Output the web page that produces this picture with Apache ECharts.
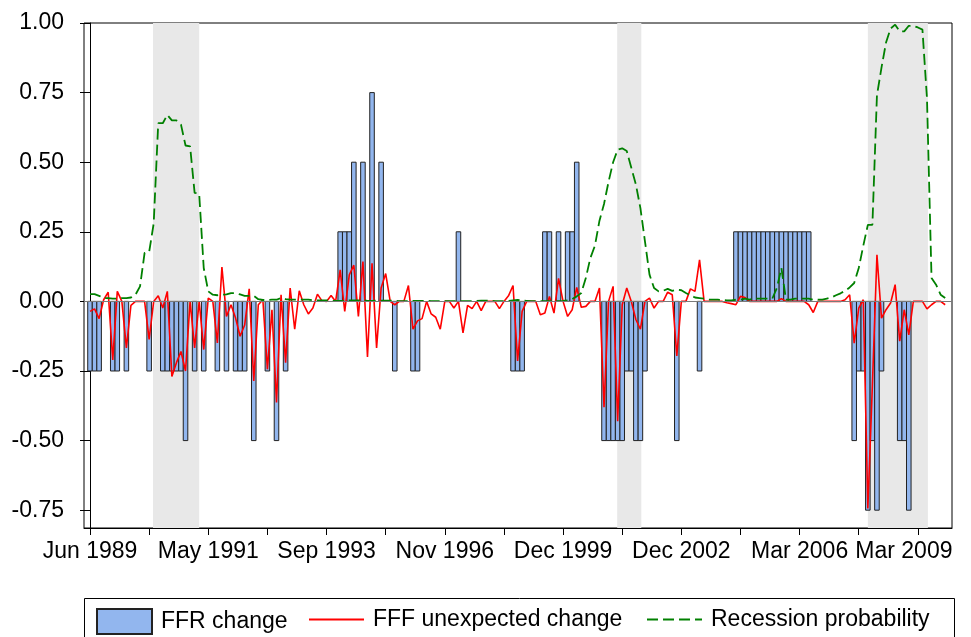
<!DOCTYPE html>
<html>
<head>
<meta charset="utf-8">
<script src="https://cdn.jsdelivr.net/npm/echarts@6/dist/echarts.min.js"></script>
<style>
  html, body { margin: 0; padding: 0; background: #fff; }
  #chart { width: 971px; height: 637px; }
</style>
</head>
<body>
<div id="chart"></div>
<script>
// observations are FOMC meetings, one label every 26 meetings, one tick every 13
var xLabels = ['Jun 1989', 'May 1991', 'Sep 1993', 'Nov 1996', 'Dec 1999', 'Dec 2002', 'Mar 2006', 'Mar 2009'];
var labelStep = 26;
var tickStep = 13;
var yTicks = [-0.75, -0.5, -0.25, 0, 0.25, 0.5, 0.75, 1];

var ffrChange = [
  -0.25, -0.25, -0.25, 0, 0, -0.25, -0.25, 0, -0.25, 0, 0, 0, 0,
  -0.25, 0, 0, -0.25, -0.25, -0.25, -0.25, -0.25, -0.5, 0, -0.25, 0, -0.25,
  0, 0, -0.25, 0, -0.25, 0, -0.25, -0.25, -0.25, 0, -0.5, 0, 0,
  -0.25, 0, -0.5, 0, -0.25, 0, 0, 0, 0, 0, 0, 0, 0,
  0, 0, 0, 0.25, 0.25, 0.25, 0.5, 0, 0.5, 0, 0.75, 0, 0.5,
  0, 0, -0.25, 0, 0, 0, -0.25, -0.25, 0, 0, 0, 0, 0,
  0, 0, 0, 0.25, 0, 0, 0, 0, 0, 0, 0, 0, 0,
  0, 0, -0.25, -0.25, -0.25, 0, 0, 0, 0, 0.25, 0.25, 0, 0.25,
  0, 0.25, 0.25, 0.5, 0, 0, 0, 0, 0, -0.5, -0.5, -0.5, -0.5,
  -0.5, -0.25, -0.25, -0.5, -0.5, -0.25, 0, 0, 0, 0, 0, 0, -0.5,
  0, 0, 0, 0, -0.25, 0, 0, 0, 0, 0, 0, 0, 0.25,
  0.25, 0.25, 0.25, 0.25, 0.25, 0.25, 0.25, 0.25, 0.25, 0.25, 0.25, 0.25, 0.25,
  0.25, 0.25, 0.25, 0, 0, 0, 0, 0, 0, 0, 0, 0, -0.5,
  -0.25, -0.25, -0.75, -0.5, -0.75, -0.25, 0, 0, 0, -0.5, -0.5, -0.75, 0,
  0, 0, 0, 0, 0, 0, 0
];

var fffSurprise = [
  -0.036, -0.027, -0.062, 0.006, 0.033, -0.21, 0.036, 0, -0.167, -0.014, 0, 0, 0,
  -0.137, 0, 0.02, -0.024, 0.036, -0.27, -0.22, -0.18, -0.25, 0, -0.167, 0, -0.173,
  0.012, 0, -0.149, 0.123, -0.054, -0.012, -0.06, -0.125, -0.085, 0.045, -0.286, -0.012, 0.006,
  -0.244, -0.03, -0.363, 0.024, -0.22, 0.048, -0.1, 0.038, -0.012, -0.045, -0.024, 0.026, 0.002,
  0, 0.021, 0, 0.113, -0.036, 0.095, 0.13, -0.054, 0.143, -0.2, 0.137, -0.167, 0.048,
  0.1, 0, -0.012, 0, 0, 0.057, -0.1, -0.07, -0.062, 0, -0.045, -0.057, -0.1,
  0, 0, -0.024, 0, -0.113, -0.014, -0.026, 0, -0.033, 0, 0, 0, -0.026,
  0, 0.02, 0.057, -0.214, -0.036, 0, 0, 0, -0.048, -0.042, 0.018, -0.042, 0.083,
  0, -0.054, -0.03, 0.05, -0.021, -0.018, 0, 0, 0.048, -0.38, 0, 0.054, -0.43,
  -0.012, 0.048, 0, -0.065, -0.1, 0, 0.012, -0.024, 0, 0, 0.033, 0.024, -0.196,
  0, 0, 0.045, 0.036, 0.149, 0, 0, 0, 0, 0, -0.005, -0.008, -0.012,
  0.018, 0.014, 0, 0, 0, 0, 0, 0, 0, 0.01, 0, 0, 0,
  0, 0, -0.012, -0.04, 0, 0, 0, 0, 0, 0, 0.006, 0.024, -0.15,
  -0.024, 0.006, -0.744, -0.3, 0.167, -0.06, -0.03, -0.006, 0.06, -0.143, -0.03, -0.12, 0,
  0, 0, -0.027, -0.012, 0, 0, -0.012
];

var recessionProb = [
  0.026, 0.026, 0.02, 0.012, 0.012, 0.01, 0.01, 0.012, 0.012, 0.014, 0.024, 0.054, 0.174,
  0.177, 0.28, 0.64, 0.64, 0.67, 0.65, 0.65, 0.635, 0.56, 0.557, 0.39, 0.387, 0.12,
  0.036, 0.024, 0.022, 0.024, 0.025, 0.03, 0.03, 0.025, 0.02, 0.02, 0.02, 0.008, 0.005,
  0.005, 0.006, 0.006, 0.012, 0.008, 0.006, 0.006, 0.006, 0.006, 0.006, 0.004, 0.004, 0.004,
  0.004, 0.002, 0.002, 0.002, 0.002, 0.004, 0.004, 0.004, 0.004, 0.002, 0.002, 0.003, 0.003,
  0.003, 0.003, 0.002, 0.001, 0.001, 0.001, 0.002, 0.002, 0.002, 0.002, 0.001, 0.001, 0.001,
  0.001, 0.001, 0.001, 0.001, 0.001, 0.001, 0.001, 0.002, 0.003, 0.003, 0.002, 0.001, 0.001,
  0.001, 0.002, 0.004, 0.005, 0.003, 0.002, 0.001, 0.001, 0.001, 0.001, 0.001, 0.001, 0.001,
  0.002, 0.004, 0.008, 0.018, 0.03, 0.084, 0.156, 0.2, 0.29, 0.35, 0.43, 0.5, 0.545,
  0.55, 0.54, 0.48, 0.42, 0.335, 0.216, 0.096, 0.048, 0.036, 0.038, 0.045, 0.038, 0.042,
  0.04, 0.03, 0.022, 0.014, 0.012, 0.01, 0.006, 0.006, 0.006, 0.005, 0.004, 0.004, 0.006,
  0.006, 0.01, 0.006, 0.01, 0.01, 0.01, 0.01, 0.01, 0.048, 0.12, 0.006, 0.006, 0.01,
  0.01, 0.01, 0.01, 0.006, 0.006, 0.006, 0.01, 0.014, 0.022, 0.029, 0.038, 0.05, 0.066,
  0.12, 0.2, 0.275, 0.275, 0.74, 0.84, 0.93, 0.98, 0.994, 0.97, 0.97, 0.99, 0.99,
  0.984, 0.976, 0.73, 0.084, 0.06, 0.024, 0.012
];

// shaded recessions, in observation units
var recessions = [[13.85, 24.0], [115.9, 121.2], [171.0, 184.2]];

var font = 'Liberation Sans, Arial, sans-serif';
var fontSize = 23;
var barFill = '#92b6ee';
var barEdge = '#222';

function pairs(arr, skipZero) {
  return arr.map(function (v, i) {
    return [i, (skipZero && v === 0) ? '-' : v];
  });
}

function steps(step, last) {
  var out = [];
  for (var v = 0; v <= last; v += step) out.push(v);
  return out;
}

var lastLabelValue = labelStep * (xLabels.length - 1);
var labelValues = steps(labelStep, lastLabelValue);
var tickValues = steps(tickStep, lastLabelValue);

function legendBox(name, left, icon, hideSymbol) {
  var l = {
    data: [{ name: name, icon: icon }],
    left: left,
    top: 608,
    padding: 0,
    itemWidth: 55,
    itemHeight: 25,
    selectedMode: false,
    textStyle: { fontSize: fontSize, color: '#000', fontFamily: font, padding: [0, 0, 0, 4] }
  };
  if (hideSymbol) l.itemStyle = { opacity: 0 };
  return l;
}

// each bar is one observation wide, from 0 to its value
function renderBar(params, api) {
  var x = api.value(0);
  var y = api.value(1);
  if (isNaN(y) || y === 0) return null;
  var a = api.coord([x - 0.5, 0]);
  var b = api.coord([x + 0.5, y]);
  return {
    type: 'rect',
    shape: { x: a[0], y: Math.min(a[1], b[1]), width: b[0] - a[0], height: Math.abs(b[1] - a[1]) },
    style: { fill: barFill, stroke: barEdge, lineWidth: 1 }
  };
}

var chart = echarts.init(document.getElementById('chart'));
chart.setOption({
  animation: false,
  backgroundColor: '#fff',
  textStyle: { fontFamily: font, color: '#000' },
  grid: {
    left: 84, top: 23, width: 868, height: 505,
    show: true, borderColor: '#000', borderWidth: 1
  },
  xAxis: {
    type: 'value',
    min: -1.32,
    max: 189.5,
    splitLine: { show: false },
    axisLine: { show: true, onZero: false, lineStyle: { color: '#000', width: 1 } },
    axisTick: { show: true, length: 7, customValues: tickValues, lineStyle: { color: '#000' } },
    axisLabel: {
      customValues: labelValues,
      margin: 12,
      fontSize: fontSize,
      color: '#000',
      fontFamily: font,
      // the last label is pulled left so it stays inside the picture
      formatter: function (v) {
        var s = xLabels[Math.round(v / labelStep)] || '';
        return v === lastLabelValue ? '{last|' + s + '}' : s;
      },
      rich: {
        last: { fontSize: fontSize, fontFamily: font, color: '#000', padding: [0, 28, 0, 0] }
      }
    }
  },
  yAxis: {
    type: 'value',
    min: -0.814,
    max: 1,
    splitLine: { show: false },
    axisLine: { show: true, lineStyle: { color: '#000', width: 1 } },
    axisTick: { show: true, length: 10, customValues: yTicks, lineStyle: { color: '#000' } },
    axisLabel: {
      customValues: yTicks,
      margin: 20,
      fontSize: fontSize,
      color: '#000',
      fontFamily: font,
      formatter: function (v) { return v.toFixed(2); }
    }
  },
  legend: [
    legendBox('FFR change', 96, 'rect', false),
    legendBox('FFF unexpected change', 308, undefined, true),
    legendBox('Recession probability', 646, undefined, true)
  ],
  graphic: [{
    type: 'rect',
    shape: { x: 84.5, y: 598.5, width: 870, height: 60 },
    style: { fill: null, stroke: '#000', lineWidth: 1 },
    silent: true
  }],
  series: [
    {
      name: 'FFR change',
      type: 'custom',
      renderItem: renderBar,
      data: pairs(ffrChange, true),
      encode: { x: 0, y: 1 },
      itemStyle: { color: barFill, borderColor: barEdge, borderWidth: 1 },
      markArea: {
        silent: true,
        itemStyle: { color: '#e8e8e8' },
        data: recessions.map(function (r) { return [{ xAxis: r[0] }, { xAxis: r[1] }]; })
      },
      markLine: {
        silent: true,
        symbol: ['none', 'none'],
        label: { show: false },
        lineStyle: { color: '#7a7a7a', type: 'solid', width: 1 },
        data: [{ yAxis: 0 }]
      }
    },
    {
      name: 'FFF unexpected change',
      type: 'line',
      data: pairs(fffSurprise, false),
      symbol: 'none',
      lineStyle: { color: '#ff0000', width: 1.6 },
      itemStyle: { color: '#ff0000' }
    },
    {
      name: 'Recession probability',
      type: 'line',
      data: pairs(recessionProb, false),
      symbol: 'none',
      lineStyle: { color: '#008000', width: 1.8, type: [11, 5] },
      itemStyle: { color: '#008000' }
    }
  ]
});
</script>
</body>
</html>
